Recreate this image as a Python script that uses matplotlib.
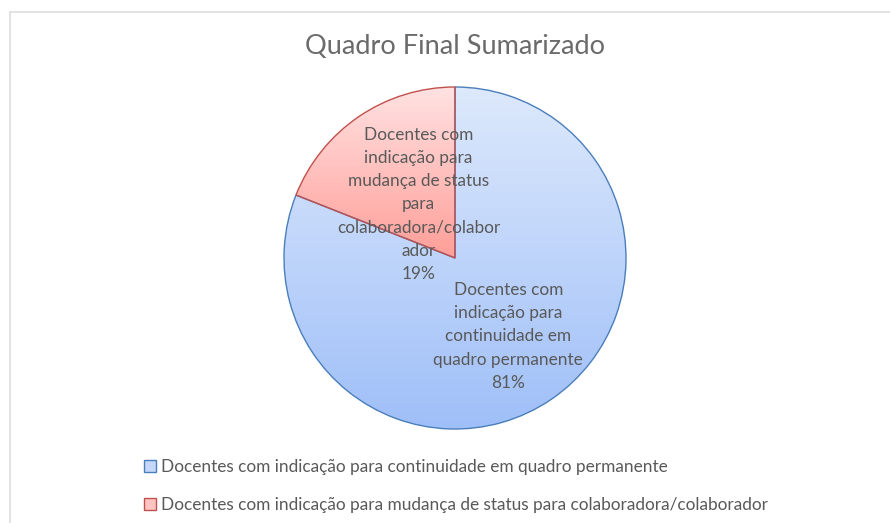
import numpy as np
import matplotlib
matplotlib.use("Agg")
import matplotlib.pyplot as plt
from matplotlib.patches import Patch
from matplotlib.colors import LinearSegmentedColormap
from matplotlib.lines import Line2D

title = "Quadro Final Sumarizado"
categories = [
    "Docentes com indicação para continuidade em quadro permanente",
    "Docentes com indicação para mudança de status para colaboradora/colaborador",
]
values = [81, 19]
slice_labels = [
    "Docentes com\nindicação para\ncontinuidade em\nquadro permanente\n81%",
    "Docentes com\nindicação para\nmudança de status\npara\ncolaboradora/colabor\nador\n19%",
]

plt.rcParams['font.family'] = ['Lato', 'DejaVu Sans']
TXT = "#595959"

W, H = 890, 523
fig = plt.figure(figsize=(W / 100, H / 100), dpi=100)
fig.patch.set_facecolor("white")

# border (top and left)
fig.add_artist(Line2D([9.5 / W, 1], [1 - 12 / H, 1 - 12 / H], color="#dedede", lw=1.2))
fig.add_artist(Line2D([9.5 / W, 9.5 / W], [0, 1 - 12 / H], color="#dedede", lw=1.2))

cx, cy, r = 455, 258, 171
ax = fig.add_axes([(cx - r) / W, (H - cy - r) / H, 2 * r / W, 2 * r / H])
wedges, _ = ax.pie(values, startangle=90, counterclock=False, radius=1,
                   wedgeprops=dict(linewidth=1.0))
ax.set_xlim(-1.0, 1.0)
ax.set_ylim(-1.0, 1.0)
ax.set_aspect("equal")
ax.axis("off")

grads = [("#dde9fc", "#9fbff8"), ("#ffe2e2", "#ff9e98")]
edges = ["#4a7ebb", "#c0504d"]
label_r = [0.555, 0.38]
renderer = fig.canvas.get_renderer()
for w, (c1, c2), ec, lab, lr in zip(wedges, grads, edges, slice_labels, label_r):
    w.set_facecolor("none")
    w.set_edgecolor(ec)
    w.set_zorder(3)
    cmap = LinearSegmentedColormap.from_list("g", [c2, c1])
    grad = np.linspace(0, 1, 256).reshape(-1, 1)
    ext = w.get_window_extent(renderer=renderer)
    inv = ax.transData.inverted()
    (x0, y0), (x1, y1) = inv.transform([[ext.x0, ext.y0], [ext.x1, ext.y1]])
    im = ax.imshow(grad, cmap=cmap, extent=[x0, x1, y0, y1], origin="lower",
                   aspect="auto", zorder=2, interpolation="bilinear")
    im.set_clip_path(w)
    th = np.deg2rad((w.theta1 + w.theta2) / 2)
    ax.text(lr * np.cos(th), lr * np.sin(th), lab, ha="center", va="center",
            fontsize=12.4, color=TXT, linespacing=1.55, zorder=5)
ax.set_xlim(-1.0, 1.0)
ax.set_ylim(-1.0, 1.0)

fig.text(cx / W, 1 - 47 / H, title, ha="center", va="center", fontsize=19.5, color="#6b6b6b")

handles = [Patch(facecolor=m, edgecolor=e, linewidth=1.0)
           for m, e in zip(["#c5d8fa", "#ffc4c2"], edges)]
leg = fig.legend(handles, categories, loc="upper left",
                 bbox_to_anchor=(144 / W, 1 - 459 / H), frameon=False,
                 fontsize=12.4, handlelength=0.7, handleheight=0.7,
                 handletextpad=0.3, labelspacing=1.3, borderpad=0, borderaxespad=0)
for t in leg.get_texts():
    t.set_color(TXT)

fig.savefig("out.png", dpi=100, facecolor="white")
